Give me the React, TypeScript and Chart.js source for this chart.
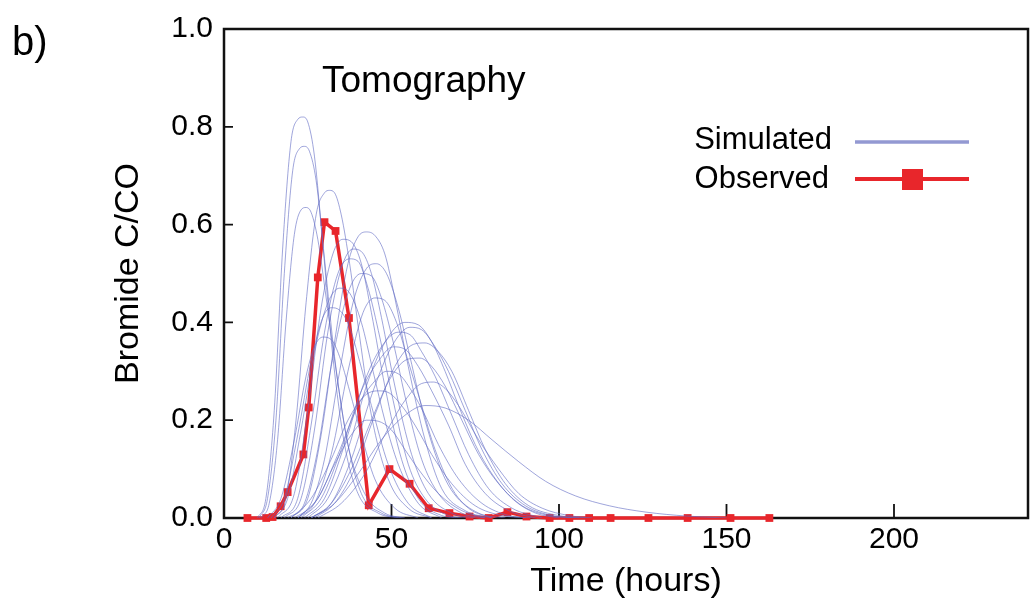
import React, { useEffect, useRef } from "react";
import { Chart, registerables } from "chart.js";

Chart.register(...registerables);

// ---- Observed bromide breakthrough (Time in hours, C/C0) ----
const obsTime = [7, 12.6, 14.5, 16.9, 19.0, 23.7, 25.3, 28.0, 30.0, 33.3, 37.3, 43.2, 49.4, 55.4, 61.1, 67.3, 73.3, 79.0, 84.6, 90.3, 97.2, 103.1, 109.0, 115.4, 126.7, 138.4, 151.2, 162.8];
const obsConc = [0, 0, 0.002, 0.024, 0.053, 0.13, 0.226, 0.492, 0.605, 0.587, 0.409, 0.026, 0.1, 0.07, 0.02, 0.01, 0.003, 0, 0.012, 0.003, 0, 0, 0, 0, 0, 0, 0, 0];

// ---- Simulated realisations, [time, C/C0] pairs ----
const sim01 = [[10, 0], [12.5, 0.04], [15, 0.22], [17.5, 0.55], [20, 0.77], [22, 0.815], [23.5, 0.82], [25, 0.81], [27, 0.74], [29.5, 0.56], [32.5, 0.33], [36, 0.15], [40, 0.05], [46, 0.01], [52, 0]];
const sim02 = [[10.5, 0], [13, 0.04], [15.5, 0.2], [18, 0.5], [20.5, 0.71], [22.5, 0.755], [24, 0.76], [25.5, 0.75], [27.5, 0.69], [30, 0.53], [33, 0.33], [37, 0.15], [41, 0.05], [47, 0.01], [53, 0]];
const sim03 = [[11, 0], [13.5, 0.03], [16, 0.16], [18.5, 0.4], [21, 0.58], [23, 0.63], [24.5, 0.635], [26, 0.625], [28, 0.57], [30.5, 0.45], [33.5, 0.3], [37, 0.15], [42, 0.05], [48, 0.01], [54, 0]];
const sim04 = [[15, 0], [18.5, 0.04], [21.5, 0.2], [24.5, 0.44], [27.5, 0.62], [30, 0.665], [31.5, 0.67], [33, 0.665], [35, 0.62], [37.5, 0.52], [40.5, 0.37], [44, 0.21], [49, 0.08], [55, 0.02], [62, 0]];
const sim05 = [[20, 0], [25, 0.04], [29, 0.17], [33, 0.36], [37, 0.52], [40, 0.575], [42.5, 0.585], [45, 0.578], [48, 0.54], [51, 0.45], [55, 0.31], [60, 0.16], [65, 0.06], [72, 0.015], [80, 0]];
const sim06 = [[16, 0], [21, 0.05], [25, 0.22], [29, 0.43], [32.5, 0.54], [35.5, 0.57], [38, 0.565], [41, 0.52], [44, 0.42], [48, 0.27], [53, 0.12], [58, 0.04], [65, 0.005], [70, 0]];
const sim07 = [[18, 0], [23, 0.04], [27, 0.18], [31, 0.38], [35, 0.51], [38.5, 0.55], [41, 0.545], [44, 0.5], [47, 0.41], [51, 0.27], [56, 0.13], [61, 0.05], [68, 0.01], [75, 0]];
const sim08 = [[17, 0], [22, 0.04], [26, 0.19], [30, 0.38], [34, 0.5], [37.5, 0.53], [40, 0.525], [43, 0.47], [46.5, 0.37], [50.5, 0.24], [55, 0.11], [60, 0.04], [67, 0.005], [72, 0]];
const sim09 = [[19, 0], [24, 0.03], [28, 0.14], [32, 0.31], [37, 0.46], [41, 0.5], [44, 0.495], [47, 0.45], [50.5, 0.36], [54, 0.25], [59, 0.12], [64, 0.05], [71, 0.01], [78, 0]];
const sim10 = [[15, 0], [19, 0.04], [23, 0.18], [27, 0.34], [31, 0.44], [34.5, 0.47], [37.5, 0.46], [41, 0.4], [44.5, 0.3], [48, 0.2], [52, 0.11], [58, 0.03], [65, 0]];
const sim11 = [[22, 0], [27, 0.03], [32, 0.13], [37, 0.3], [41.5, 0.42], [45, 0.45], [48, 0.445], [51.5, 0.4], [55, 0.32], [59, 0.23], [63, 0.14], [69, 0.05], [76, 0.01], [84, 0]];
const sim12 = [[25, 0], [31, 0.04], [37, 0.14], [43, 0.28], [49, 0.37], [54, 0.4], [58, 0.395], [62, 0.36], [66, 0.3], [70, 0.23], [75, 0.15], [80, 0.09], [86, 0.04], [93, 0.01], [100, 0]];
const sim13 = [[26, 0], [32, 0.03], [38, 0.12], [44, 0.25], [50, 0.35], [55.5, 0.39], [59, 0.385], [63, 0.35], [67, 0.3], [72, 0.22], [77, 0.14], [83, 0.07], [90, 0.025], [98, 0.005], [106, 0]];
const sim14 = [[24, 0], [30, 0.04], [36, 0.15], [42, 0.28], [47, 0.35], [52, 0.38], [55.5, 0.375], [59, 0.34], [63, 0.29], [68, 0.21], [73, 0.13], [79, 0.06], [86, 0.02], [95, 0]];
const sim15 = [[27, 0], [33, 0.03], [39, 0.1], [45, 0.21], [51, 0.31], [56.5, 0.355], [60, 0.358], [64, 0.34], [68, 0.3], [73, 0.22], [78, 0.14], [84, 0.07], [91, 0.025], [100, 0.005], [108, 0]];
const sim16 = [[23, 0], [29, 0.04], [35, 0.14], [41, 0.26], [46, 0.32], [50.5, 0.35], [54, 0.345], [58, 0.31], [62, 0.26], [67, 0.19], [72, 0.11], [78, 0.05], [85, 0.015], [93, 0]];
const sim17 = [[26, 0], [32, 0.03], [38, 0.1], [44, 0.2], [50, 0.29], [55, 0.325], [58.5, 0.327], [62, 0.31], [66, 0.27], [71, 0.2], [76, 0.13], [82, 0.07], [89, 0.025], [97, 0.005], [105, 0]];
const sim18 = [[22, 0], [28, 0.04], [34, 0.13], [40, 0.23], [45, 0.28], [48.5, 0.3], [52, 0.295], [56, 0.26], [60, 0.21], [64, 0.15], [70, 0.08], [77, 0.03], [85, 0.005], [92, 0]];
const sim19 = [[28, 0], [35, 0.03], [42, 0.09], [48, 0.17], [54, 0.24], [59, 0.275], [62.5, 0.278], [66, 0.265], [70, 0.23], [76, 0.16], [82, 0.1], [88, 0.05], [95, 0.02], [103, 0.005], [110, 0]];
const sim20 = [[26, 0], [33, 0.03], [40, 0.09], [47, 0.16], [54, 0.21], [60, 0.23], [66, 0.225], [73, 0.2], [80, 0.16], [88, 0.115], [96, 0.075], [105, 0.045], [115, 0.025], [126, 0.012], [138, 0.004], [150, 0]];
const sim21 = [[20, 0], [26, 0.04], [32, 0.12], [37, 0.2], [42, 0.25], [46, 0.26], [49.5, 0.255], [53, 0.23], [57, 0.19], [62, 0.13], [68, 0.07], [75, 0.025], [83, 0.005], [90, 0]];
const sim22 = [[14, 0], [18, 0.04], [22, 0.17], [26, 0.32], [29.5, 0.41], [32, 0.43], [34.5, 0.425], [37.5, 0.39], [40.5, 0.32], [44, 0.23], [49, 0.11], [55, 0.03], [62, 0]];
const sim23 = [[13, 0], [17, 0.04], [21, 0.16], [24.5, 0.29], [27, 0.35], [29.5, 0.37], [32, 0.365], [34.5, 0.33], [37.5, 0.26], [41, 0.17], [45, 0.08], [51, 0.02], [58, 0]];
const sim24 = [[21, 0], [26, 0.03], [30, 0.12], [34, 0.28], [38.5, 0.44], [42.5, 0.51], [45.5, 0.52], [48.5, 0.5], [52, 0.43], [55.5, 0.33], [60, 0.2], [66, 0.08], [73, 0.02], [80, 0]];
const sim25 = [[22, 0], [28, 0.04], [33, 0.11], [38, 0.17], [42.5, 0.2], [46, 0.198], [50, 0.18], [54, 0.14], [58, 0.1], [64, 0.05], [71, 0.015], [78, 0]];

const simulatedRuns = [sim01, sim02, sim03, sim04, sim05, sim06, sim07, sim08, sim09, sim10, sim11, sim12, sim13, sim14, sim15, sim16, sim17, sim18, sim19, sim20, sim21, sim22, sim23, sim24, sim25];

const xTicks = [50, 100, 150, 200];
const yTicks = [0.2, 0.4, 0.6, 0.8];

const FONT = "'Liberation Sans', Arial, Helvetica, sans-serif";
const SIM_COLOR = "rgba(95, 105, 195, 0.6)";
const SIM_LEGEND = "#9399d2";
const OBS_COLOR = "#e8262b";

const framePlugin = {
  id: "frame",
  beforeDatasetsDraw(chart: any) {
    const { ctx, chartArea, scales } = chart;
    const { left, right, top, bottom } = chartArea;
    ctx.save();
    ctx.strokeStyle = "#111";
    ctx.lineWidth = 2.5;
    ctx.strokeRect(left, top, right - left, bottom - top);
    ctx.lineWidth = 1.8;
    ctx.beginPath();
    for (const v of yTicks) {
      const y = scales.y.getPixelForValue(v);
      ctx.moveTo(left, y);
      ctx.lineTo(left + 9, y);
    }
    for (const v of xTicks) {
      const x = scales.x.getPixelForValue(v);
      ctx.moveTo(x, bottom);
      ctx.lineTo(x, bottom - 14);
    }
    ctx.stroke();
    ctx.restore();
  },
  afterDraw(chart: any) {
    const { ctx } = chart;
    ctx.save();
    ctx.fillStyle = "#000";
    ctx.textBaseline = "middle";
    // panel label
    ctx.textAlign = "left";
    ctx.font = `40px ${FONT}`;
    ctx.fillText("b)", 12, 44);
    // title
    ctx.font = `37px ${FONT}`;
    ctx.fillText("Tomography", 322, 82);
    // legend
    ctx.font = `31px ${FONT}`;
    ctx.textAlign = "right";
    ctx.fillText("Simulated", 832, 140);
    ctx.fillText("Observed", 829, 179);
    ctx.lineCap = "butt";
    ctx.strokeStyle = SIM_LEGEND;
    ctx.lineWidth = 3.5;
    ctx.beginPath();
    ctx.moveTo(855, 142);
    ctx.lineTo(969, 142);
    ctx.stroke();
    ctx.strokeStyle = OBS_COLOR;
    ctx.lineWidth = 4;
    ctx.beginPath();
    ctx.moveTo(855, 179);
    ctx.lineTo(969, 179);
    ctx.stroke();
    ctx.fillStyle = OBS_COLOR;
    ctx.fillRect(902, 169, 21, 21);
    ctx.restore();
  },
};

export default function App() {
  const canvasRef = useRef<HTMLCanvasElement | null>(null);

  useEffect(() => {
    document.body.style.margin = "0";
    const canvas = canvasRef.current;
    if (!canvas) return;

    const simSets = simulatedRuns.map((run, i) => ({
      label: `Simulated ${i + 1}`,
      data: run.map(([x, y]) => ({ x, y })),
      borderColor: SIM_COLOR,
      borderWidth: 1,
      pointRadius: 0,
      fill: false,
      cubicInterpolationMode: "monotone" as const,
    }));

    const obsSet = {
      label: "Observed",
      data: obsTime.map((t, i) => ({ x: t, y: obsConc[i] })),
      borderColor: OBS_COLOR,
      backgroundColor: OBS_COLOR,
      borderWidth: 3.5,
      pointStyle: "rect" as const,
      pointRadius: 5.5,
      pointBorderWidth: 0,
      tension: 0,
      fill: false,
      clip: 8,
    };

    const chart = new Chart(canvas, {
      type: "line",
      data: { datasets: [...simSets, obsSet] as any },
      options: {
        responsive: false,
        animation: false,
        layout: { padding: { left: 0, top: 22, right: 6, bottom: 0 } },
        plugins: { legend: { display: false }, tooltip: { enabled: false } },
        scales: {
          x: {
            type: "linear",
            min: 0,
            max: 240,
            grid: { display: false, drawTicks: false },
            border: { display: false },
            ticks: {
              stepSize: 50,
              includeBounds: false,
              padding: 4,
              color: "#000",
              font: { family: FONT, size: 30 },
            },
            title: {
              display: true,
              text: "Time (hours)",
              color: "#000",
              font: { family: FONT, size: 34 },
              padding: { top: 0, bottom: 8 },
            },
            afterFit: (s: any) => {
              s.height = 92;
            },
          },
          y: {
            type: "linear",
            min: 0,
            max: 1,
            grid: { display: false, drawTicks: false },
            border: { display: false },
            ticks: {
              stepSize: 0.2,
              padding: 11,
              color: "#000",
              font: { family: FONT, size: 30 },
              callback: (v: any) => Number(v).toFixed(1),
            },
            title: {
              display: true,
              text: "Bromide C/CO",
              color: "#000",
              font: { family: FONT, size: 34 },
              padding: { top: 108, bottom: 0 },
            },
            afterFit: (s: any) => {
              s.width = 224;
            },
          },
        },
      },
      plugins: [framePlugin],
    });

    return () => chart.destroy();
  }, []);

  return (
    <div style={{ width: 1034, height: 610, background: "#fff" }}>
      <canvas ref={canvasRef} width={1034} height={610} />
    </div>
  );
}
